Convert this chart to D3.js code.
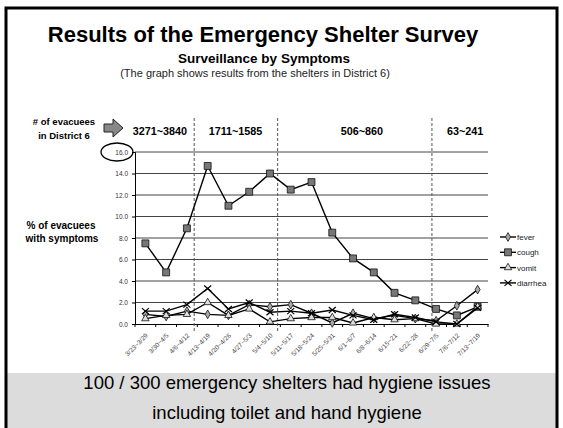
<!DOCTYPE html>
<html>
<head>
<meta charset="utf-8">
<script src="https://cdn.jsdelivr.net/npm/d3@7"></script>
<style>
  body { margin: 0; background: #fff; }
  svg text { font-family: Arial, "Liberation Sans", sans-serif; }
</style>
</head>
<body>
<div id="chart"></div>
<script>
'use strict';

var weeks = ['3/23~3/29', '3/30~4/5', '4/6~4/12', '4/13~4/19', '4/20~4/26', '4/27~5/3',
             '5/4~5/10', '5/11~5/17', '5/18~5/24', '5/25~5/31', '6/1~6/7', '6/8~6/14',
             '6/15~21', '6/22~28', '6/29~7/5', '7/6~7/12', '7/13~7/19'];

var fever    = [0.9, 0.7, 1.2, 0.9, 0.8, 1.8, 1.6, 1.8, 1.0, 0.1, 1.0, 0.5, 0.8, 0.5, 0.3, 1.7, 3.2];
var cough    = [7.5, 4.8, 8.9, 14.7, 11.0, 12.3, 14.0, 12.5, 13.2, 8.5, 6.1, 4.8, 2.9, 2.2, 1.4, 0.8, 1.6];
var vomit    = [0.5, 0.8, 0.9, 2.0, 0.8, 1.4, 0.2, 0.5, 0.6, 0.6, 0.1, 0.6, 0.4, 0.5, 0.0, 0.0, 1.6];
var diarrhea = [1.2, 1.2, 1.8, 3.3, 1.4, 2.0, 1.1, 1.2, 1.0, 1.3, 0.8, 0.4, 0.9, 0.6, 0.2, 0.0, 1.5];

var seriesNames = ['fever', 'cough', 'vomit', 'diarrhea'];
var yTicks = [0, 2, 4, 6, 8, 10, 12, 14, 16];

// evacuee count ranges per period, and where the dashed dividers sit (in week units)
var periodLabels = ['3271~3840', '1711~1585', '506~860', '63~241'];
var periodMid = [1.2, 4.84, 10.93, 15.9];
var dividers = [2.85, 6.87, 14.3];

var W = 563, H = 428;
var plot = {left: 135, right: 488, top: 152, bottom: 324};

var svg = d3.select('#chart').append('svg')
    .attr('width', W).attr('height', H);

// frame and bottom box
svg.append('rect').attr('x', 7).attr('y', 373).attr('width', 550).attr('height', 60)
    .attr('fill', '#dcdcdc');
svg.append('rect').attr('x', 6).attr('y', 8).attr('width', 551).attr('height', 430)
    .attr('fill', 'none').attr('stroke', '#000').attr('stroke-width', 3);

// titles
svg.append('text').attr('x', 263).attr('y', 42).attr('text-anchor', 'middle')
    .attr('font-size', 22).attr('font-weight', 'bold').text('Results of the Emergency Shelter Survey');
svg.append('text').attr('x', 264).attr('y', 63).attr('text-anchor', 'middle')
    .attr('font-size', 13.5).attr('font-weight', 'bold').text('Surveillance by Symptoms');
svg.append('text').attr('x', 255).attr('y', 77).attr('text-anchor', 'middle')
    .attr('font-size', 11).attr('fill', '#222')
    .text('(The graph shows results from  the shelters in District 6)');

var x = d3.scaleBand().domain(weeks).range([plot.left, plot.right]);
var xc = function(i){ return x(weeks[i]) + x.bandwidth() / 2; };
var y = d3.scaleLinear().domain([0, 16]).range([plot.bottom, plot.top]);

// gridlines
svg.append('g').selectAll('line').data(yTicks.slice(1)).enter().append('line')
    .attr('x1', plot.left).attr('x2', plot.right)
    .attr('y1', function(d){ return y(d); }).attr('y2', function(d){ return y(d); })
    .attr('stroke', '#444').attr('stroke-width', 1);

// y axis
var yAxis = svg.append('g').attr('transform', 'translate(' + plot.left + ',0)')
    .call(d3.axisLeft(y).tickValues(yTicks).tickSize(3).tickPadding(4)
      .tickFormat(function(d){ return d.toFixed(1); }));
yAxis.select('.domain').attr('stroke', '#000');
yAxis.selectAll('text').attr('font-size', 6.5).attr('fill', '#333')
    .style('font-family', 'Arial, "Liberation Sans", sans-serif');

// x axis
var xAxis = svg.append('g').attr('transform', 'translate(0,' + plot.bottom + ')')
    .call(d3.axisBottom(x).tickSize(0).tickPadding(0));
xAxis.select('.domain').attr('stroke', '#000');
xAxis.selectAll('text')
    .attr('font-size', 6.5).attr('fill', '#444')
    .style('font-family', 'Arial, "Liberation Sans", sans-serif')
    .attr('text-anchor', 'end')
    .attr('dy', 0)
    .attr('y', 0)
    .attr('transform', 'translate(3,12) rotate(-45)');
svg.append('g').selectAll('line').data(d3.range(weeks.length + 1)).enter().append('line')
    .attr('x1', function(i){ return plot.left + i * x.step(); })
    .attr('x2', function(i){ return plot.left + i * x.step(); })
    .attr('y1', plot.bottom).attr('y2', plot.bottom + 3)
    .attr('stroke', '#000');

// dashed dividers + period labels
svg.append('g').selectAll('line').data(dividers).enter().append('line')
    .attr('x1', function(d){ return plot.left + d * x.step(); })
    .attr('x2', function(d){ return plot.left + d * x.step(); })
    .attr('y1', 118).attr('y2', 331)
    .attr('stroke', '#555').attr('stroke-width', 1).attr('stroke-dasharray', '3,2');
svg.append('g').selectAll('text').data(periodLabels).enter().append('text')
    .attr('x', function(d, i){ return plot.left + periodMid[i] * x.step(); })
    .attr('y', 135).attr('text-anchor', 'middle')
    .attr('font-size', 10.8).attr('font-weight', 'bold')
    .text(function(d){ return d; });

// left-side labels
svg.append('text').attr('x', 64).attr('y', 125).attr('text-anchor', 'middle')
    .attr('font-size', 9.5).attr('font-weight', 'bold').text('# of evacuees');
svg.append('text').attr('x', 64).attr('y', 139).attr('text-anchor', 'middle')
    .attr('font-size', 9.5).attr('font-weight', 'bold').text('in District 6');
svg.append('path')
    .attr('d', 'M104,124 L113,124 L113,119 L123,128 L113,137 L113,132 L104,132 Z')
    .attr('fill', '#888').attr('stroke', '#222').attr('stroke-width', 1);
svg.append('ellipse').attr('cx', 117).attr('cy', y(16)).attr('rx', 16).attr('ry', 9)
    .attr('fill', 'none').attr('stroke', '#000').attr('stroke-width', 1.3);
svg.append('text').attr('x', 61).attr('y', 229).attr('text-anchor', 'middle')
    .attr('font-size', 10).attr('font-weight', 'bold').text('% of evacuees');
svg.append('text').attr('x', 62).attr('y', 242).attr('text-anchor', 'middle')
    .attr('font-size', 10).attr('font-weight', 'bold').text('with symptoms');

// series
var markerSym = {
  fever: d3.symbol().type(d3.symbolDiamond).size(22),
  cough: d3.symbol().type(d3.symbolSquare).size(48),
  vomit: d3.symbol().type(d3.symbolTriangle).size(24),
  diarrhea: d3.symbol().type(d3.symbolCross).size(1)
};
var markerFill = {fever: '#aaa', cough: '#777', vomit: '#ddd', diarrhea: 'none'};
var values = {fever: fever, cough: cough, vomit: vomit, diarrhea: diarrhea};

var drawMarker = function(g, name){
  if (name == 'diarrhea'){
    g.append('path').attr('d', 'M-3.5,-3 L3.5,3 M-3.5,3 L3.5,-3')
        .attr('stroke', '#000').attr('stroke-width', 1.2).attr('fill', 'none');
  } else {
    g.append('path').attr('d', markerSym[name]())
        .attr('fill', markerFill[name]).attr('stroke', '#111').attr('stroke-width', 0.8);
  }
};

var line = d3.line()
    .x(function(d, i){ return xc(i); })
    .y(function(d){ return y(d); });

seriesNames.forEach(function(name){
  var data = values[name];
  svg.append('path').datum(data).attr('d', line)
      .attr('fill', 'none').attr('stroke', '#000').attr('stroke-width', 1.4);
  svg.append('g').selectAll('g').data(data).enter().append('g')
      .attr('transform', function(d, i){ return 'translate(' + xc(i) + ',' + y(d) + ')'; })
      .each(function(){ drawMarker(d3.select(this), name); });
});

// legend
var legend = svg.append('g').selectAll('g').data(seriesNames).enter().append('g')
    .attr('transform', function(d, i){ return 'translate(500,' + (237 + i * 15.3) + ')'; });
legend.append('line').attr('x1', 0).attr('x2', 16).attr('stroke', '#000').attr('stroke-width', 1.4);
legend.append('g').attr('transform', 'translate(8,0)')
    .each(function(d){ drawMarker(d3.select(this), d); });
legend.append('text').attr('x', 17).attr('y', 3).attr('font-size', 8).attr('fill', '#222')
    .text(function(d){ return d; });

// bottom note
svg.append('text').attr('x', 287).attr('y', 389).attr('text-anchor', 'middle')
    .attr('font-size', 18.5).text('100 / 300 emergency shelters had hygiene issues');
svg.append('text').attr('x', 287).attr('y', 419).attr('text-anchor', 'middle')
    .attr('font-size', 18.5).text('including toilet and hand hygiene');
</script>
</body>
</html>
